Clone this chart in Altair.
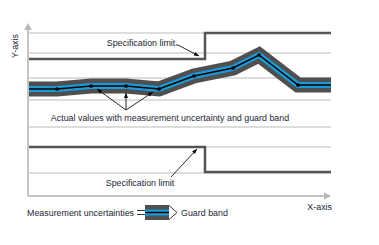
import altair as alt
import pandas as pd

# Schematic units: x 0..303 along the plot, y 0..173 above the x-axis
meas_x = [0, 29, 63, 98, 131, 166, 205, 231, 270, 303]
meas_y = [107, 107, 110, 110, 107, 120, 128, 141, 111, 111]
grid_y = [163, 143, 118, 96, 69, 49, 23]
upper_spec_x = [0, 177, 177, 303]
upper_spec_y = [137, 137, 163, 163]
lower_spec_x = [0, 177, 177, 303]
lower_spec_y = [49, 49, 24, 24]

# leader lines (id, x, y) and arrow tips
leader_id = ["u", "u", "u", "a1", "a1", "a2", "a2", "a3", "a3", "l", "l"]
leader_x = [148, 150, 171, 98, 69, 98, 98, 98, 125, 143, 169]
leader_y = [151, 151, 140, 86, 107, 86, 103, 86, 104, 19, 47]
tip_x = [171, 69, 98, 125, 169]
tip_y = [140, 107, 103, 104, 47]
tip_angle = [116, 306, 0, 56, 44]

# legend glyph
legend_band_x = [117, 141]
legend_band_y = [-16.5, -16.5]
conn_id = ["e1", "e1", "e2", "e2", "g1", "g1", "g2", "g2"]
conn_x = [109, 117, 109, 117, 141, 149, 141, 149]
conn_y = [-14.5, -14.5, -18.5, -18.5, -9.5, -16.5, -23.5, -16.5]

labels = ["Specification limit", "Actual values with measurement uncertainty and guard band",
          "Specification limit", "X-axis"]
label_x = [113, 142, 112, 304]
label_y = [153, 78, 13, -11]
label_align = ["center", "center", "center", "right"]
legend_texts = ["Measurement uncertainties", "Guard band"]
legend_text_x = [-1, 153]
legend_text_y = [-17, -17]

FONT = "Liberation Sans"
FS = 8.9
TXT = "#1e1e36"
AX = "#c4c4c4"


def X(f="x"):
    return alt.X(f"{f}:Q", scale=alt.Scale(domain=[0, 303], nice=False, zero=False), axis=None)


def Y(f="y"):
    return alt.Y(f"{f}:Q", scale=alt.Scale(domain=[0, 173], nice=False, zero=False), axis=None)


grid = alt.Chart(pd.DataFrame({"y": grid_y})).mark_rule(color="#d2d2d2", strokeWidth=1.5).encode(y=Y())


def path(xs, ys, **kw):
    df = pd.DataFrame({"x": xs, "y": ys, "i": list(range(len(xs)))})
    return alt.Chart(df).mark_line(**kw).encode(x=X(), y=Y(), order="i:Q")


spec_u = path(upper_spec_x, upper_spec_y, color="#555555", strokeWidth=2.5, strokeJoin="miter")
spec_l = path(lower_spec_x, lower_spec_y, color="#555555", strokeWidth=2.5, strokeJoin="miter")

band_g = path(meas_x, meas_y, color="#4f4f4f", strokeWidth=15, strokeJoin="miter", strokeCap="butt")
band_b = path(meas_x, meas_y, color="#1b9ad8", strokeWidth=6, strokeJoin="miter", strokeCap="butt")
band_k = path(meas_x, meas_y, color="#000000", strokeWidth=1.4, strokeJoin="miter", strokeCap="butt")
dots = alt.Chart(pd.DataFrame({"x": meas_x[1:-1], "y": meas_y[1:-1]})).mark_point(
    filled=True, color="#000000", size=14, opacity=1).encode(x=X(), y=Y())

leaders = alt.Chart(pd.DataFrame({"id": leader_id, "x": leader_x, "y": leader_y,
                                  "i": list(range(len(leader_x)))})).mark_line(
    color="#111111", strokeWidth=0.9).encode(x=X(), y=Y(), detail="id:N", order="i:Q")
heads = alt.Chart(pd.DataFrame({"x": tip_x, "y": tip_y, "a": tip_angle})).mark_point(
    shape="M0,0L0.8,2L-0.8,2Z", filled=True, color="#000000", size=25, opacity=1).encode(
    x=X(), y=Y(), angle=alt.Angle("a:Q", scale=None))

lg_g = path(legend_band_x, legend_band_y, color="#4f4f4f", strokeWidth=15, strokeCap="butt")
lg_b = path(legend_band_x, legend_band_y, color="#1b9ad8", strokeWidth=6, strokeCap="butt")
lg_k = path(legend_band_x, legend_band_y, color="#000000", strokeWidth=1.4, strokeCap="butt")
conns = alt.Chart(pd.DataFrame({"id": conn_id, "x": conn_x, "y": conn_y,
                                "i": list(range(len(conn_x)))})).mark_line(
    color="#222222", strokeWidth=0.9).encode(x=X(), y=Y(), detail="id:N", order="i:Q")

ax_y = path([0, 0], [0, 167], color=AX, strokeWidth=2)
ax_x = path([0, 297], [0, 0], color=AX, strokeWidth=2)
ax_heads = alt.Chart(pd.DataFrame({"x": [0, 303], "y": [173, 0], "a": [0, 90]})).mark_point(
    shape="M0,0L1.1,2L-1.1,2Z", filled=True, color="#b8b8b8", size=49, opacity=1).encode(
    x=X(), y=Y(), angle=alt.Angle("a:Q", scale=None))

txt_layers = []
for t, x, y, al in zip(labels, label_x, label_y, label_align):
    txt_layers.append(alt.Chart(pd.DataFrame({"x": [x], "y": [y], "t": [t]})).mark_text(
        font=FONT, fontSize=FS, color=TXT, align=al, baseline="middle").encode(x=X(), y=Y(), text="t:N"))
leg_txt = alt.Chart(pd.DataFrame({"x": legend_text_x, "y": legend_text_y, "t": legend_texts})).mark_text(
    font=FONT, fontSize=FS, color=TXT, align="left", baseline="middle").encode(x=X(), y=Y(), text="t:N")
ylab = alt.Chart(pd.DataFrame({"x": [-13], "y": [150], "t": ["Y-axis"]})).mark_text(
    font=FONT, fontSize=FS, color=TXT, angle=270, align="center", baseline="middle").encode(
    x=X(), y=Y(), text="t:N")

chart = alt.layer(
    grid, spec_u, spec_l, band_g, band_b, band_k, dots, leaders, heads,
    lg_g, lg_b, lg_k, conns, ax_y, ax_x, ax_heads, *txt_layers, leg_txt, ylab
).properties(
    width=303, height=173,
    autosize=alt.AutoSizeParams(type="none"),
    padding={"left": 28, "top": 23, "right": 48, "bottom": 49},
    background="white",
).configure_view(stroke=None)

chart.save("out.html", embed_options={"renderer": "svg", "actions": False})
